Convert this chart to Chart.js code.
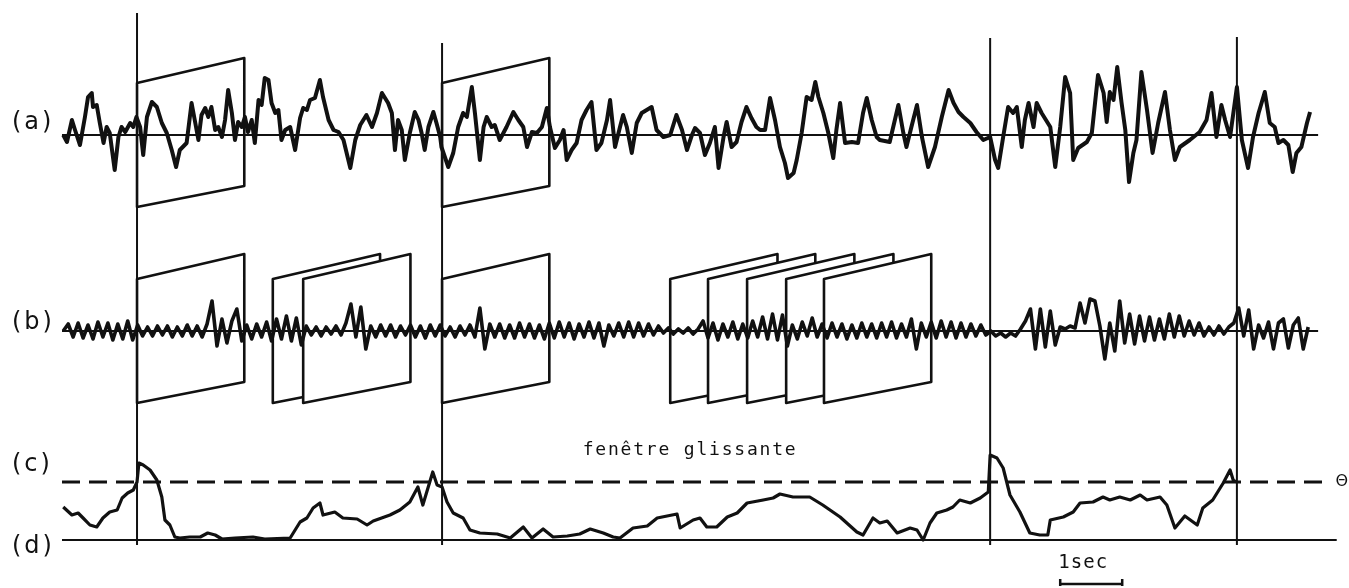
<!DOCTYPE html>
<html lang="fr">
<head>
    <meta charset="UTF-8">
    <title>Fenêtre glissante</title>
    <style>
        body { margin: 0; background: #fff; }
        #fig { display: block; }
    </style>
    <script src="https://cdn.jsdelivr.net/npm/chart.js"></script>
</head>
<body>
<canvas id="fig" width="1349" height="588"></canvas>
<script>
    // (a) signal brut : instants (s) et amplitudes
    const aTimes = [0.02,0.08,0.16,0.21,0.29,0.37,0.42,0.48,0.50,0.56,0.61,0.67,0.72,0.77,0.85,0.91,0.96,1.02,1.10,1.15,
        1.20,1.26,1.31,1.37,1.45,1.53,1.61,1.69,1.77,1.84,1.90,2.01,2.09,2.15,2.20,2.25,2.31,2.36,2.41,2.47,
        2.52,2.58,2.63,2.68,2.74,2.79,2.84,2.90,2.95,3.00,3.06,3.11,3.17,3.22,3.27,3.33,3.38,3.44,3.49,3.54,
        3.60,3.68,3.76,3.84,3.89,3.95,4.00,4.08,4.16,4.21,4.30,4.38,4.46,4.54,4.65,4.73,4.81,4.91,5.00,5.08,
        5.16,5.21,5.26,5.32,5.37,5.42,5.48,5.53,5.61,5.69,5.75,5.80,5.85,5.91,5.99,6.04,6.10,6.12,6.23,6.31,
        6.39,6.47,6.53,6.61,6.66,6.74,6.80,6.85,6.93,6.98,7.06,7.17,7.28,7.36,7.44,7.50,7.58,7.66,7.74,7.82,
        7.87,7.95,8.03,8.09,8.14,8.22,8.30,8.38,8.46,8.54,8.62,8.70,8.79,8.84,8.92,9.00,9.05,9.11,9.19,9.27,
        9.35,9.51,9.59,9.70,9.81,9.91,10.00,10.08,10.16,10.21,10.29,10.37,10.45,10.53,10.59,10.67,10.72,10.80,10.88,10.96,
        11.04,11.12,11.20,11.26,11.34,11.42,11.50,11.58,11.66,11.71,11.80,11.85,11.93,12.01,12.09,12.15,12.20,12.28,12.36,12.44,
        12.49,12.55,12.63,12.74,12.84,12.92,12.98,13.06,13.14,13.19,13.35,13.49,13.57,13.62,13.70,13.79,13.87,13.97,14.08,14.19,
        14.30,14.38,14.46,14.54,14.65,14.75,14.86,14.97,15.05,15.10,15.18,15.26,15.34,15.40,15.48,15.53,15.59,15.67,15.72,15.80,
        15.94,16.02,16.10,16.18,16.26,16.31,16.39,16.53,16.61,16.71,16.80,16.85,16.90,16.96,17.02,17.09,17.15,17.21,17.28,17.33,
        17.41,17.50,17.59,17.68,17.79,17.87,17.95,18.03,18.19,18.35,18.46,18.54,18.62,18.70,18.76,18.84,18.95,19.03,19.13,19.21,
        19.30,19.40,19.48,19.56,19.62,19.70,19.78,19.85,19.91,19.99,20.08,20.13];
    const aValues = [0,-7,15,5,-10,18,38,42,28,30,12,-8,8,2,-35,-2,8,3,12,8,
        18,8,-20,18,33,28,12,2,-15,-32,-15,-8,32,12,-5,20,27,18,28,5,
        8,-2,15,45,22,-5,13,8,18,3,15,-8,35,30,57,55,32,22,25,-5,
        5,8,-15,17,27,25,35,37,55,38,15,5,3,-5,-33,-5,10,20,8,22,
        42,37,32,22,-15,15,5,-25,2,23,15,2,-15,8,23,12,-2,-12,-32,-18,
        8,22,18,48,22,-25,8,18,8,10,-5,8,23,15,8,-12,3,2,8,27,
        8,-13,-5,5,-25,-15,-8,15,25,33,-15,-8,15,35,-12,8,20,8,-18,12,
        22,28,5,-2,0,20,5,-15,0,7,2,-20,-8,8,-33,-2,13,-12,-7,13,
        28,17,8,5,5,37,15,-12,-28,-43,-38,-25,2,38,35,53,38,22,2,-23,
        5,32,-8,-7,-8,22,37,15,-2,-5,-7,30,2,-12,8,30,-2,-32,-12,18,
        45,32,23,18,12,3,-5,-2,-25,-33,-2,28,22,28,-12,15,32,8,32,22,
        8,-32,8,58,42,-25,-13,-7,2,60,42,13,43,35,68,32,5,-47,-18,-5,
        63,25,-18,12,43,5,-25,-12,-5,3,15,42,-2,30,15,-2,48,-5,-33,-2,
        22,43,12,8,-8,-5,-10,-37,-18,-12,12,23];

    // (b) signal filtré : échantillons réguliers
    const bStart = 0.02;
    const bStep = 0.08;
    const bValues = [0,7,-6,8,-7,6,-8,9,-6,8,-9,7,-8,10,-9,
        6,-5,4,-5,5,-4,5,-6,4,-5,6,-5,5,-6,7,
        30,-15,12,-12,10,22,-10,
        6,-8,7,-6,9,-10,
        12,-8,15,-10,13,-14,
        5,-4,4,-5,4,-3,5,-4,
        8,27,-6,24,-18,
        5,-6,6,-5,6,-6,5,-4,6,-6,5,-7,6,
        -5,6,-5,4,-6,5,-4,6,-6,
        23,-18,
        7,-6,7,-7,6,-7,8,-6,7,-7,6,-8,
        8,-7,9,-6,8,-8,7,-6,9,-7,8,
        -15,6,
        -5,8,-6,9,-6,8,-5,7,-4,5,
        -2,3,-3,2,-2,3,-3,2,
        10,-7,8,-9,7,-6,9,-8,7,-7,10,-6,
        14,-8,17,-9,16,-15,
        6,-8,9,-5,13,-6,7,-7,
        8,-6,7,-8,6,-7,8,-6,7,-7,8,-6,9,-7,
        7,-6,12,-18,
        8,-6,9,-7,10,-6,9,-7,8,-6,7,-5,6,-4,
        0,-5,-2,-6,-2,-5,2,
        10,22,-18,22,-16,20,-14,
        4,2,5,3,
        28,8,32,30,5,
        -28,8,-20,30,
        -12,17,-13,15,-10,14,-9,12,
        -8,17,-6,15,-5,10,-4,8,
        -5,4,-4,5,-3,4,
        8,23,-5,21,-18,
        6,-7,9,-18,8,12,-17,6,13,-18,4];

    // (c)/(d) énergie en fenêtre glissante
    const dTimes = [0.02,0.16,0.26,0.34,0.45,0.56,0.66,0.77,0.89,0.97,1.06,1.15,1.21,1.24,1.31,1.42,1.53,1.61,1.66,1.74,
        1.82,1.90,2.06,2.23,2.35,2.47,2.58,2.79,3.08,3.27,3.68,3.84,3.95,4.05,4.16,4.21,4.40,4.53,4.76,4.92,
        5.02,5.29,5.45,5.61,5.74,5.82,5.98,6.05,6.13,6.21,6.31,6.47,6.58,6.74,7.02,7.23,7.44,7.58,7.76,7.92,
        8.15,8.35,8.52,8.73,8.89,9.00,9.21,9.44,9.60,9.92,9.97,10.18,10.29,10.40,10.56,10.73,10.89,11.05,11.31,11.47,
        11.58,11.79,12.06,12.27,12.55,12.82,12.92,13.08,13.19,13.31,13.47,13.68,13.79,13.89,14.00,14.11,14.27,14.37,14.48,14.65,
        14.81,14.94,14.97,15.08,15.18,15.29,15.45,15.61,15.77,15.90,15.94,16.15,16.31,16.42,16.63,16.79,16.90,17.06,17.23,17.39,
        17.50,17.71,17.82,17.95,18.11,18.31,18.40,18.56,18.73,18.84,18.89,18.94];
    const dValues = [33,25,27,22,15,13,22,28,30,42,47,50,58,77,75,70,60,43,20,15,
        3,2,3,3,7,5,1,2,3,1,2,18,22,32,37,25,28,22,21,15,
        19,25,30,38,53,35,68,55,53,38,27,22,10,7,6,2,13,2,11,3,
        4,6,11,7,3,2,12,14,22,26,12,20,22,13,13,23,27,37,40,42,
        46,43,43,35,23,8,5,22,17,19,7,12,10,0,17,27,30,33,40,37,
        42,48,85,82,72,45,28,7,5,5,20,23,28,37,38,43,40,43,40,45,
        40,43,35,12,24,15,32,40,57,70,60,58];

    const detectTimes = [1.21, 6.13, 14.97, 18.95];
    const aWindowStarts = [1.21, 6.13];
    const bWindowStarts = [1.21, 3.40, 3.89, 6.13, 9.81, 10.42, 11.05, 11.68, 12.29];
    const windowLength = 1.73;
    const threshold = 58;

    // mise en page (unités de l'axe y)
    const INK = '#111';
    const baseA = 453, baseB = 257, baseD = 48;
    const vlineBottom = 43;
    const vlineTops = [575, 545, 550, 551];

    const aData = aTimes.map((t, i) => ({ x: t, y: baseA + aValues[i] }));
    const bData = bValues.map((v, i) => ({ x: bStart + i * bStep, y: baseB + v }));
    const dData = dTimes.map((t, i) => ({ x: t, y: baseD + dValues[i] }));

    function seg(x0, y0, x1, y1, width, dash) {
        return {
            data: [{ x: x0, y: y0 }, { x: x1, y: y1 }],
            borderColor: INK, borderWidth: width, borderDash: dash || [],
            pointRadius: 0, borderCapStyle: 'butt'
        };
    }

    const datasets = [
        { data: aData, borderColor: INK, borderWidth: 4, pointRadius: 0 },
        { data: bData, borderColor: INK, borderWidth: 3.6, pointRadius: 0 },
        { data: dData, borderColor: INK, borderWidth: 3.2, pointRadius: 0 },
        seg(0, baseA, 20.26, baseA, 2),
        seg(0, baseB, 20.26, baseB, 2),
        seg(0, baseD, 20.56, baseD, 2.2),
        seg(0, baseD + threshold, 20.44, baseD + threshold, 3, [18, 9])
    ];
    detectTimes.forEach((t, i) => datasets.push(seg(t, vlineBottom, t, vlineTops[i], 2)));

    function drawWindow(chart, t0, base) {
        const ctx = chart.ctx, xs = chart.scales.x, ys = chart.scales.y;
        const xl = xs.getPixelForValue(t0), xr = xs.getPixelForValue(t0 + windowLength);
        const p = v => ys.getPixelForValue(base + v);
        ctx.beginPath();
        ctx.moveTo(xl, p(52));
        ctx.lineTo(xr, p(77));
        ctx.lineTo(xr, p(-51));
        ctx.lineTo(xl, p(-72));
        ctx.closePath();
        ctx.fillStyle = '#fff';
        ctx.fill();
        ctx.stroke();
    }

    const figurePlugin = {
        id: 'figure',
        beforeDatasetsDraw(chart) {
            const ctx = chart.ctx;
            ctx.save();
            ctx.strokeStyle = INK;
            ctx.lineWidth = 2.6;
            ctx.lineJoin = 'round';
            aWindowStarts.forEach(t => drawWindow(chart, t, baseA));
            bWindowStarts.forEach(t => drawWindow(chart, t, baseB));
            ctx.restore();
        },
        afterDatasetsDraw(chart) {
            const ctx = chart.ctx, xs = chart.scales.x, ys = chart.scales.y;
            ctx.save();
            ctx.fillStyle = INK;
            ctx.textBaseline = 'middle';

            ctx.font = '24px "DejaVu Sans"';
            ctx.letterSpacing = '3px';
            ctx.textAlign = 'left';
            ctx.fillText('(a)', 12, ys.getPixelForValue(baseA + 12));
            ctx.fillText('(b)', 12, ys.getPixelForValue(baseB + 8));
            ctx.fillText('(c)', 12, ys.getPixelForValue(baseD + threshold + 17));
            ctx.fillText('(d)', 12, ys.getPixelForValue(baseD - 7));

            ctx.font = '18px "DejaVu Sans Mono"';
            ctx.letterSpacing = '1.8px';
            ctx.textAlign = 'center';
            ctx.fillText('fenêtre glissante', xs.getPixelForValue(10.13), ys.getPixelForValue(138));

            ctx.font = '16px "DejaVu Sans"';
            ctx.letterSpacing = '0px';
            ctx.textAlign = 'center';
            ctx.fillText('Θ', xs.getPixelForValue(20.64), ys.getPixelForValue(baseD + threshold));

            // barre d'échelle 1 s
            const bx0 = xs.getPixelForValue(16.1), bx1 = xs.getPixelForValue(17.1);
            const by = ys.getPixelForValue(4);
            ctx.font = '19px "DejaVu Sans Mono"';
            ctx.letterSpacing = '1px';
            ctx.textAlign = 'center';
            ctx.fillText('1sec', (bx0 + bx1) / 2 - 8, ys.getPixelForValue(25));
            ctx.strokeStyle = INK;
            ctx.lineWidth = 2.5;
            ctx.beginPath();
            ctx.moveTo(bx0, by);
            ctx.lineTo(bx1, by);
            ctx.moveTo(bx0, by + 2);
            ctx.lineTo(bx0, by - 5);
            ctx.moveTo(bx1, by + 2);
            ctx.lineTo(bx1, by - 5);
            ctx.stroke();
            ctx.restore();
        }
    };

    new Chart(document.getElementById('fig').getContext('2d'), {
        type: 'line',
        data: { datasets: datasets },
        options: {
            responsive: false,
            animation: false,
            events: [],
            layout: { padding: 0, autoPadding: false },
            elements: { line: { tension: 0, borderJoinStyle: 'round' } },
            plugins: { legend: { display: false }, tooltip: { enabled: false } },
            scales: {
                x: { type: 'linear', min: -1, max: 20.758, display: false },
                y: { type: 'linear', min: 0, max: 588, display: false }
            }
        },
        plugins: [figurePlugin]
    });
</script>
</body>
</html>
